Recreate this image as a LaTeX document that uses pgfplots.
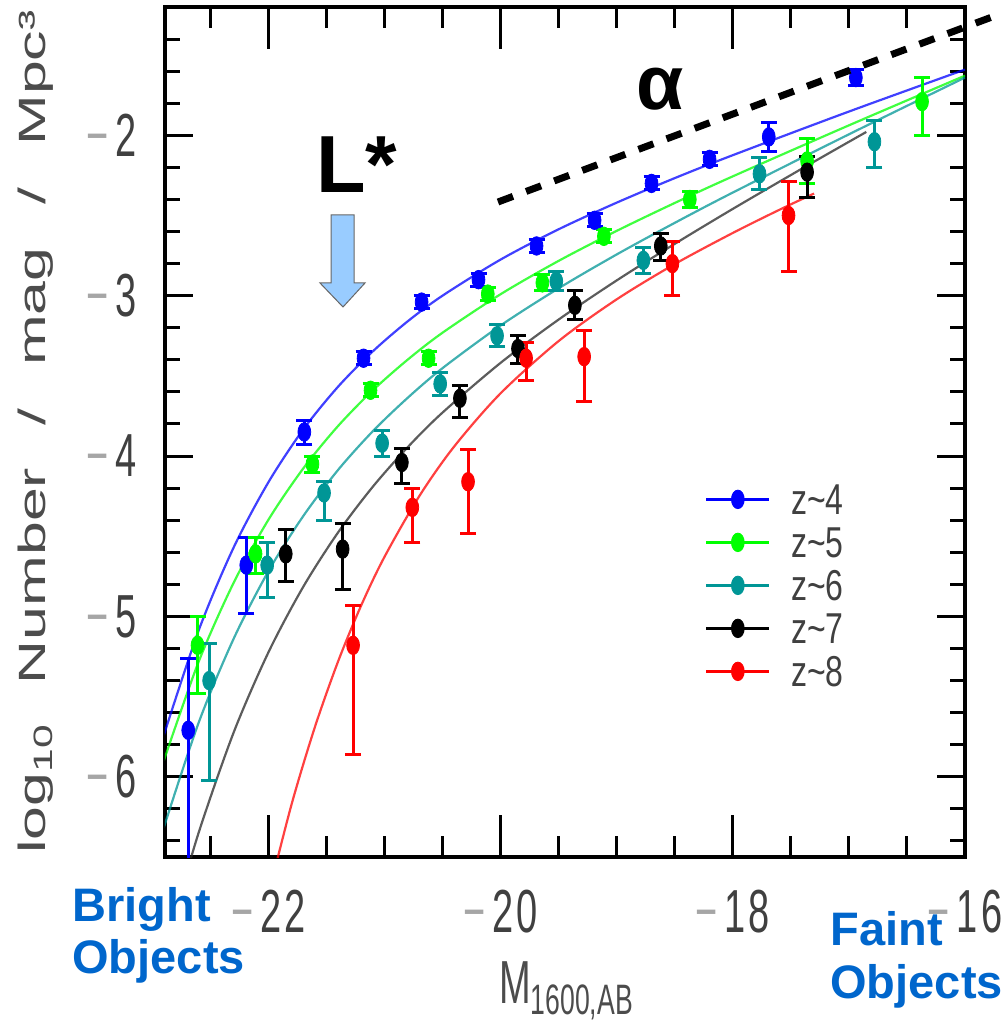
\documentclass[border=0pt]{standalone}
\usepackage{graphicx}
\usepackage{pgfplots}
\pgfplotsset{compat=1.18}
\usepackage{fontspec}
\setmainfont{Liberation Sans}
\definecolor{zfour}{RGB}{0,0,255}
\definecolor{zfive}{RGB}{0,255,0}
\definecolor{zsix}{RGB}{0,150,150}
\definecolor{zseven}{RGB}{0,0,0}
\definecolor{zeight}{RGB}{255,0,0}
\definecolor{objblue}{RGB}{0,102,204}
\definecolor{arrowblue}{RGB}{153,204,255}
\newcommand{\tlab}[1]{\scalebox{1}[1.6]{\fontsize{19}{20}\selectfont\textcolor{black!35}{\char"2212}\hspace{3.5pt}\textcolor{black!75}{\addfontfeature{LetterSpace=8}#1}}}
\newcommand{\zleg}[1]{\rule[-3pt]{0pt}{21.5pt}\scalebox{1}[1.35]{\fontsize{16}{18}\selectfont\textcolor{black!75}{z\textasciitilde#1}}}
\pgfplotsset{
  dat/.style={only marks, forget plot, color=#1, mark=*, mark size=3.2pt,
    mark options={yscale=1.45, fill=#1, draw=#1, line width=0.4pt},
    error bars/.cd, y dir=both, y explicit,
    error bar style={line width=1.5pt, #1},
    error mark options={rotate=90, mark size=4pt, line width=1.5pt, #1}},
  fitc/.style={color=#1, line width=1.1pt, smooth, no marks, opacity=0.75, forget plot},
  legimg/.style={color=#1, line width=1.75pt, mark=*, mark size=3.2pt,
    mark options={solid, line width=0.4pt, fill=#1, draw=#1, yscale=1.45}}
}
\begin{document}
\begin{tikzpicture}
\path[use as bounding box] (-82.5pt,-83pt) rectangle (421pt,428.5pt);
\begin{axis}[
  at={(0,0)}, anchor=south west,
  scale only axis, width=400pt, height=425pt,
  xmin=-22.89, xmax=-16, ymin=-6.5, ymax=-1.2,
  axis line style={line width=2pt},
  tick style={line width=1.5pt, black},
  major tick length=14pt, minor tick length=7.5pt,
  xtick style={/pgfplots/major tick length=21pt, /pgfplots/minor tick length=10.5pt},
  xtick={-22,-20,-18,-16},
  xticklabels={\tlab{22},\tlab{20},\tlab{18},\tlab{16}},
  minor xtick={-22.5,-21.5,-21,-20.5,-19.5,-19,-18.5,-17.5,-17,-16.5},
  ytick={-6,-5,-4,-3,-2},
  yticklabels={\tlab{6},\tlab{5},\tlab{4},\tlab{3},\tlab{2}},
  minor ytick={-6.4,-6.2,-5.8,-5.6,-5.4,-5.2,-4.8,-4.6,-4.4,-4.2,-3.8,-3.6,-3.4,-3.2,-2.8,-2.6,-2.4,-2.2,-1.8,-1.6,-1.4},
  xticklabel style={anchor=center, inner sep=0pt, yshift=-27.25pt},
  yticklabel style={anchor=east, inner sep=0pt, xshift=-14pt},
  legend style={at={(0.674,0.4465)}, anchor=north west, draw=none, fill=none,
    inner sep=0pt, row sep=0pt, column sep=10pt, nodes={inner sep=0pt, text depth=3pt}},
  legend cell align=left,
  legend image code/.code={\draw[#1, mark repeat=2, mark phase=2] plot coordinates {(0pt,0pt) (15.75pt,0pt) (31.5pt,0pt)};},
]
\addlegendimage{legimg=zfour}\addlegendentry{\zleg{4}}
\addlegendimage{legimg=zfive}\addlegendentry{\zleg{5}}
\addlegendimage{legimg=zsix}\addlegendentry{\zleg{6}}
\addlegendimage{legimg=zseven}\addlegendentry{\zleg{7}}
\addlegendimage{legimg=zeight}\addlegendentry{\zleg{8}}

% Schechter fits (values read/estimated from the figure)
\addplot[fitc=zfour] coordinates {(-22.9,-5.740) (-22.6,-5.087) (-22.3,-4.572) (-22.0,-4.164) (-21.7,-3.835) (-21.4,-3.568) (-21.1,-3.347) (-20.8,-3.160) (-20.5,-3.000) (-20.0,-2.775) (-19.5,-2.586) (-19.0,-2.420) (-18.5,-2.267) (-18.0,-2.124) (-17.0,-1.852) (-16.0,-1.590)};
\addplot[fitc=zfive] coordinates {(-22.9,-5.899) (-22.6,-5.282) (-22.3,-4.792) (-22.0,-4.398) (-21.7,-4.078) (-21.4,-3.813) (-21.1,-3.590) (-20.8,-3.399) (-20.5,-3.231) (-20.0,-2.991) (-19.5,-2.783) (-19.0,-2.596) (-18.5,-2.422) (-18.0,-2.256) (-17.0,-1.938) (-16.0,-1.628)};
\addplot[fitc=zsix] coordinates {(-22.9,-6.316) (-22.6,-5.662) (-22.3,-5.141) (-22.0,-4.719) (-21.7,-4.375) (-21.4,-4.087) (-21.1,-3.845) (-20.8,-3.637) (-20.5,-3.452) (-20.0,-3.186) (-19.5,-2.954) (-19.0,-2.743) (-18.5,-2.546) (-18.0,-2.357) (-17.0,-1.994) (-16.0,-1.640)};
\addplot[fitc=black!85] coordinates {(-22.8,-6.848) (-22.6,-6.348) (-22.3,-5.726) (-22.0,-5.225) (-21.7,-4.816) (-21.4,-4.477) (-21.1,-4.191) (-20.8,-3.945) (-20.5,-3.729) (-20.0,-3.419) (-19.5,-3.149) (-19.0,-2.905) (-18.5,-2.677) (-18.0,-2.459) (-17.4,-2.206) (-16.85,-1.979)};
\addplot[fitc=zeight] coordinates {(-22.0,-6.738) (-21.8,-6.172) (-21.6,-5.692) (-21.4,-5.282) (-21.2,-4.931) (-21.0,-4.629) (-20.7,-4.250) (-20.4,-3.941) (-20.0,-3.609) (-19.5,-3.283) (-19.0,-3.023) (-18.5,-2.803) (-18.0,-2.609) (-17.6,-2.465) (-17.3,-2.363)};

% data points
\addplot[dat=zfour] coordinates {
(-22.69,-5.71) += (0,0.45) -= (0,1.0)
(-22.19,-4.68) += (0,0.17) -= (0,0.30)
(-21.69,-3.85) += (0,0.07) -= (0,0.08)
(-21.18,-3.39) += (0,0.04) -= (0,0.04)
(-20.68,-3.04) += (0,0.04) -= (0,0.04)
(-20.19,-2.90) += (0,0.04) -= (0,0.04)
(-19.69,-2.69) += (0,0.04) -= (0,0.04)
(-19.19,-2.53) += (0,0.04) -= (0,0.04)
(-18.70,-2.30) += (0,0.04) -= (0,0.04)
(-18.20,-2.15) += (0,0.04) -= (0,0.04)
(-17.69,-2.01) += (0,0.09) -= (0,0.09)
(-16.94,-1.64) += (0,0.05) -= (0,0.05)
};
\addplot[dat=zfive] coordinates {
(-22.61,-5.18) += (0,0.18) -= (0,0.30)
(-22.11,-4.61) += (0,0.10) -= (0,0.12)
(-21.62,-4.05) += (0,0.05) -= (0,0.05)
(-21.12,-3.59) += (0,0.04) -= (0,0.04)
(-20.62,-3.39) += (0,0.04) -= (0,0.04)
(-20.11,-2.99) += (0,0.04) -= (0,0.04)
(-19.64,-2.92) += (0,0.05) -= (0,0.05)
(-19.11,-2.63) += (0,0.04) -= (0,0.04)
(-18.37,-2.40) += (0,0.05) -= (0,0.05)
(-17.36,-2.16) += (0,0.14) -= (0,0.14)
(-16.37,-1.79) += (0,0.15) -= (0,0.21)
};
\addplot[dat=zsix] coordinates {
(-22.51,-5.40) += (0,0.23) -= (0,0.62)
(-22.01,-4.68) += (0,0.14) -= (0,0.20)
(-21.52,-4.23) += (0,0.07) -= (0,0.17)
(-21.02,-3.92) += (0,0.08) -= (0,0.08)
(-20.52,-3.55) += (0,0.07) -= (0,0.07)
(-20.03,-3.25) += (0,0.07) -= (0,0.07)
(-19.52,-2.91) += (0,0.06) -= (0,0.06)
(-18.77,-2.78) += (0,0.08) -= (0,0.08)
(-17.77,-2.24) += (0,0.10) -= (0,0.10)
(-16.78,-2.04) += (0,0.13) -= (0,0.16)
};
\addplot[dat=zseven] coordinates {
(-21.85,-4.61) += (0,0.15) -= (0,0.17)
(-21.36,-4.58) += (0,0.16) -= (0,0.25)
(-20.85,-4.04) += (0,0.09) -= (0,0.13)
(-20.35,-3.64) += (0,0.08) -= (0,0.12)
(-19.85,-3.33) += (0,0.08) -= (0,0.09)
(-19.36,-3.06) += (0,0.09) -= (0,0.09)
(-18.62,-2.69) += (0,0.08) -= (0,0.09)
(-17.36,-2.23) += (0,0.10) -= (0,0.16)
};
\addplot[dat=zeight] coordinates {
(-21.27,-5.18) += (0,0.25) -= (0,0.68)
(-20.76,-4.32) += (0,0.12) -= (0,0.22)
(-20.28,-4.16) += (0,0.20) -= (0,0.32)
(-19.78,-3.39) += (0,0.10) -= (0,0.14)
(-19.28,-3.38) += (0,0.16) -= (0,0.28)
(-18.52,-2.80) += (0,0.14) -= (0,0.20)
(-17.52,-2.50) += (0,0.21) -= (0,0.35)
};
\end{axis}
% annotations in pixel coordinates of the reference
\begin{scope}[x=0.5pt, y=-0.5pt, shift={(-82.5pt,428.5pt)}]
\node[rotate=90, inner sep=0pt, anchor=center, text=black!70] at (36,432)
  {\scalebox{1.6}[1]{\fontsize{19}{20}\selectfont log\textsubscript{10}\hspace{0.65em}Number\hspace{0.7em}/\hspace{0.7em}mag\hspace{0.7em}/\hspace{0.7em}Mpc³}};
\node[inner sep=0pt, anchor=center, text=black!70] at (566.5,991)
  {\scalebox{1}[1.6]{\fontsize{19}{20}\selectfont M\textsubscript{1600,AB}}};
\draw[fill=arrowblue, draw=black!60, line width=0.5pt] (331,215) -- (354,215) -- (354,283) -- (365,283) -- (343,307) -- (320,283) -- (331,283) -- cycle;
\node[anchor=base west, inner sep=0pt, font=\fontsize{40.5}{44}\selectfont\bfseries] at (316,193) {L*};
\node[anchor=base west, inner sep=0pt, font=\fontsize{38.5}{42}\selectfont\bfseries] at (636,110) {α};
\draw[line width=3.5pt, dash pattern=on 8pt off 7pt] (498,202) -- (992,17);
\node[anchor=base west, inner sep=0pt, text=objblue, font=\fontsize{23.5}{26}\selectfont\bfseries] at (72,921) {Bright};
\node[anchor=base west, inner sep=0pt, text=objblue, font=\fontsize{23.5}{26}\selectfont\bfseries] at (72,973) {Objects};
\node[anchor=base west, inner sep=0pt, text=objblue, font=\fontsize{23.5}{26}\selectfont\bfseries] at (830,945) {Faint};
\node[anchor=base west, inner sep=0pt, text=objblue, font=\fontsize{23.5}{26}\selectfont\bfseries] at (830,998) {Objects};
\end{scope}
\end{tikzpicture}
\end{document}
